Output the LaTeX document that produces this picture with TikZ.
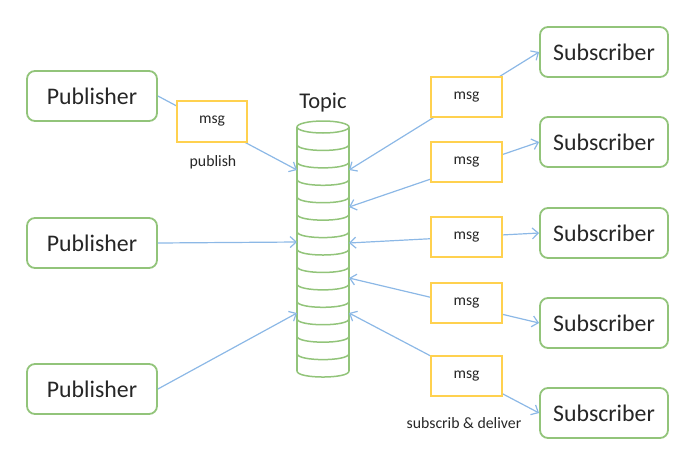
\documentclass[tikz,border=0pt]{standalone}
\usepackage{fontspec}
\setmainfont{Carlito}
\usetikzlibrary{arrows.meta}
\definecolor{boxgreen}{HTML}{92C47A}
\definecolor{msgyellow}{HTML}{FFD14F}
\definecolor{linkblue}{HTML}{8CB8E6}
\definecolor{txt}{HTML}{262626}
\tikzset{
  pubsub/.style={draw=boxgreen, line width=1.8pt, rounded corners=8pt, fill=white,
    minimum height=50pt, inner sep=0pt, text=txt, font=\fontsize{23.8}{28}\selectfont},
  msgbox/.style={draw=msgyellow, line width=1.3pt, fill=white, minimum width=71pt,
    minimum height=40pt, inner sep=0pt, text=txt, font=\fontsize{15.6}{18}\selectfont},
  smalltext/.style={text=txt, font=\fontsize{15.8}{18}\selectfont, inner sep=0pt},
  link/.style={draw=linkblue, line width=1.2pt},
  tip/.tip={Straight Barb[length=6pt,width=11pt,line width=1.2pt]},
  cyl/.style={draw=boxgreen, line width=1.5pt}
}
\begin{document}
\begin{tikzpicture}[x=1pt,y=-1pt]
\useasboundingbox (0,0) rectangle (684,461);

% publishers
\node[pubsub, minimum width=130pt] (P1) at (92,96) {Publisher};
\node[pubsub, minimum width=130pt] (P2) at (92,243) {Publisher};
\node[pubsub, minimum width=130pt] (P3) at (92,389) {Publisher};

% subscribers
\node[pubsub, minimum width=128pt] (S1) at (604,52) {Subscriber};
\node[pubsub, minimum width=128pt] (S2) at (604,142) {Subscriber};
\node[pubsub, minimum width=128pt] (S3) at (604,233) {Subscriber};
\node[pubsub, minimum width=128pt] (S4) at (604,323) {Subscriber};
\node[pubsub, minimum width=128pt] (S5) at (604,413) {Subscriber};

% topic cylinder
\node[text=txt, font=\fontsize{22.5}{26}\selectfont, inner sep=0pt] (topic) at (323,103) {Topic};
\draw[cyl] (323,127) ellipse [x radius=26, y radius=6];
\draw[cyl] (297,127) -- (297,371);
\draw[cyl] (349,127) -- (349,371);
\foreach \k in {1,...,14}{
  \pgfmathsetmacro{\yc}{127+\k*17.43}
  \draw[cyl] (297,\yc) .. controls (297,\yc+8) and (349,\yc+8) .. (349,\yc);
}

% attachment points on the topic
\coordinate (tL1) at (297,170);
\coordinate (tL2) at (297,242);
\coordinate (tL3) at (297,313);
\coordinate (tR1) at (349,170);
\coordinate (tR2) at (349,207);
\coordinate (tR3) at (349,243);
\coordinate (tR4) at (349,278);
\coordinate (tR5) at (349,313);

% links
\draw[link, -tip] (P1.east) -- (tL1);
\draw[link, -tip] (P2.east) -- (tL2);
\draw[link, -tip] (P3.east) -- (tL3);
\draw[link, tip-tip] (tR1) -- (S1.west);
\draw[link, tip-tip] (tR2) -- (S2.west);
\draw[link, tip-tip] (tR3) -- (S3.west);
\draw[link, tip-tip] (tR4) -- (S4.west);
\draw[link, tip-tip] (tR5) -- (S5.west);

% messages
\node[msgbox, minimum width=70pt, minimum height=41pt] (m0) at (212,121.5) {msg};
\node[msgbox] (m1) at (466.5,97) {msg};
\node[msgbox] (m2) at (466.5,162) {msg};
\node[msgbox] (m3) at (466.5,237) {msg};
\node[msgbox] (m4) at (466.5,303) {msg};
\node[msgbox] (m5) at (466.5,376) {msg};

\node[smalltext] (pub) at (213,162) {publish};
\node[smalltext] (sub) at (464,423) {subscrib \& deliver};
\end{tikzpicture}
\end{document}
